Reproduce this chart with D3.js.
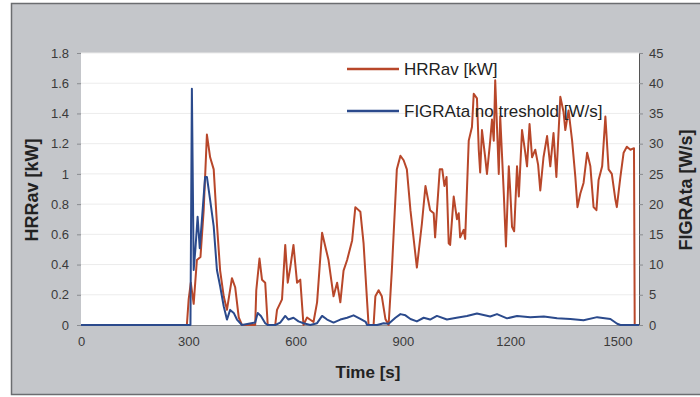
<!DOCTYPE html>
<html>
<head>
<meta charset="utf-8">
<script src="https://cdn.jsdelivr.net/npm/d3@7/dist/d3.min.js"></script>
<style>
  body { margin: 0; background: #fff; }
  svg { display: block; font-family: "Liberation Sans", Arial, sans-serif; }
</style>
</head>
<body>
<div id="chart"></div>
<script>
// tempo [s] e HRRav [kW]
const hrrTempo = [0, 296, 301, 307, 315, 324, 334, 343, 352, 361, 371, 380, 389, 399, 408, 422, 431, 441, 450,
  487, 490, 499, 506, 515, 522, 543, 548, 562, 571, 578, 585, 594, 604, 613, 622, 632, 650, 660, 674, 683,
  692, 706, 716, 725, 734, 744, 758, 767, 781, 790, 800, 804, 818, 823, 832, 841, 851, 860, 869, 883, 893,
  902, 911, 921, 939, 953, 963, 976, 986, 990, 1003, 1010, 1016, 1022, 1028, 1032, 1042, 1051, 1056, 1060,
  1070, 1074, 1084, 1093, 1098, 1107, 1112, 1116, 1121, 1130, 1135, 1144, 1149, 1154, 1158, 1163, 1168,
  1172, 1182, 1188, 1196, 1200, 1205, 1211, 1219, 1224, 1233, 1242, 1247, 1254, 1261, 1270, 1278, 1284,
  1293, 1303, 1312, 1321, 1329, 1340, 1349, 1354, 1363, 1373, 1382, 1388, 1396, 1405, 1415, 1424, 1433,
  1441, 1447, 1457, 1466, 1475, 1484, 1494, 1498, 1508, 1517, 1526, 1536, 1546, 1548, 1560];
const hrrValores = [0, 0, 0.17, 0.28, 0.14, 0.43, 0.45, 0.76, 1.26, 1.11, 1.03, 0.67, 0.36, 0.19, 0.10, 0.31,
  0.25, 0.05, 0, 0, 0.23, 0.44, 0.30, 0.28, 0, 0, 0.10, 0.17, 0.53, 0.28, 0.38, 0.53, 0.28, 0.30, 0, 0.05,
  0.02, 0.15, 0.61, 0.52, 0.43, 0.19, 0.28, 0.15, 0.36, 0.43, 0.56, 0.78, 0.75, 0.54, 0.15, 0, 0, 0.19,
  0.23, 0.19, 0.04, 0, 0.36, 1.03, 1.12, 1.09, 1.03, 0.76, 0.38, 0.67, 0.92, 0.76, 0.74, 0.58, 1.03, 1.03,
  0.92, 0.98, 0.54, 0.53, 0.85, 0.70, 0.74, 0.58, 0.63, 0.57, 1.22, 1.31, 1.53, 1.50, 1.16, 1.01, 1.29,
  1.11, 1.00, 1.22, 1.36, 1.22, 1.62, 1.31, 1.00, 1.38, 0.87, 0.52, 1.05, 0.89, 0.65, 0.62, 1.05, 0.85,
  1.29, 1.14, 1.05, 1.33, 1.11, 1.16, 1.06, 0.89, 1.11, 1.25, 1.05, 1.27, 0.98, 1.51, 1.41, 1.29, 1.42,
  1.22, 0.98, 0.78, 0.87, 0.94, 1.14, 1.05, 0.78, 0.76, 0.96, 1.05, 1.38, 1.03, 1.00, 0.83, 0.78, 0.98,
  1.14, 1.18, 1.16, 1.17, 0, 0];

// tempo [s] e FIGRAta [W/s]
const figraTempo = [0, 300, 306, 310, 315, 320, 326, 332, 338, 347, 352, 361, 371, 380, 389, 399, 408, 417,
  427, 436, 450, 487, 494, 503, 515, 522, 543, 557, 571, 580, 594, 608, 622, 641, 660, 674, 688, 706, 725,
  744, 762, 781, 796, 800, 828, 846, 860, 879, 893, 907, 921, 939, 958, 976, 995, 1023, 1050, 1079, 1107,
  1144, 1163, 1191, 1219, 1256, 1294, 1331, 1368, 1405, 1443, 1480, 1499, 1508, 1560];
const figraValores = [0, 0, 0, 39.1, 9.1, 12.7, 17.9, 12.7, 17.4, 24.5, 24.5, 20.7, 16.3, 9.1, 6.4, 3.1, 0.9,
  2.5, 2.0, 0.9, 0, 0.4, 2.0, 1.5, 0.3, 0, 0, 0.4, 1.5, 0.9, 1.2, 0.6, 0.3, 0, 0.3, 1.5, 0.9, 0.4, 0.9,
  1.2, 1.6, 1.0, 0.5, 0, 0, 0.3, 0.2, 1.2, 1.8, 1.6, 1.0, 0.6, 1.2, 0.9, 1.5, 0.9, 1.2, 1.5, 1.9, 1.4,
  1.8, 1.1, 1.5, 1.3, 1.4, 1.1, 1.0, 0.8, 1.3, 1.0, 0.2, 0, 0];

const ticksTempo = [0, 300, 600, 900, 1200, 1500];
const ticksHrr = [0, 0.2, 0.4, 0.6, 0.8, 1, 1.2, 1.4, 1.6, 1.8];
const ticksFigra = [0, 5, 10, 15, 20, 25, 30, 35, 40, 45];
const legendas = ["HRRav [kW]", "FIGRAta no treshold [W/s]"];

const largura = 700, altura = 397;
const margins = { top: 53, right: 61, bottom: 72, left: 81 };

const svg = d3.select("#chart").append("svg")
  .attr("width", largura)
  .attr("height", altura);

// fundo cinza
svg.append("rect")
  .attr("x", 11.5).attr("y", 3.5)
  .attr("width", 700).attr("height", 391)
  .attr("fill", "#c4c6ca")
  .attr("stroke", "#6b6d70")
  .attr("stroke-width", 1.5);

// area do grafico
svg.append("rect")
  .attr("x", margins.left).attr("y", margins.top)
  .attr("width", largura - margins.left - margins.right)
  .attr("height", altura - margins.top - margins.bottom)
  .attr("fill", "#fff");

//Escalas
const xScale = d3.scaleLinear()
  .domain([0, 1560])
  .range([margins.left, largura - margins.right]);

const yHrr = d3.scaleLinear()
  .domain([0, 1.8])
  .range([altura - margins.bottom, margins.top]);

const yFigra = d3.scaleLinear()
  .domain([0, 45])
  .range([altura - margins.bottom, margins.top]);

// grade
svg.append("g")
  .selectAll("line")
  .data(ticksHrr.slice(1))
  .join("line")
  .attr("x1", margins.left).attr("x2", largura - margins.right)
  .attr("y1", d => yHrr(d)).attr("y2", d => yHrr(d))
  .attr("stroke", "#ececec")
  .attr("stroke-width", 1);

//Eixos
const eixoX = svg.append("g")
  .attr("transform", `translate(0, ${altura - margins.bottom})`)
  .call(d3.axisBottom(xScale).tickValues(ticksTempo).tickSize(0).tickPadding(12)
    .tickFormat(d3.format("d")));

const eixoEsq = svg.append("g")
  .attr("transform", `translate(${margins.left}, 0)`)
  .call(d3.axisLeft(yHrr).tickValues(ticksHrr).tickSize(4).tickPadding(8)
    .tickFormat(d3.format("~g")));

const eixoDir = svg.append("g")
  .attr("transform", `translate(${largura - margins.right}, 0)`)
  .call(d3.axisRight(yFigra).tickValues(ticksFigra).tickSize(4).tickPadding(6));

[eixoX, eixoEsq, eixoDir].forEach(g => {
  g.selectAll("text")
    .attr("font-size", "13px")
    .attr("fill", "#3a3a3a")
    .attr("font-family", "Liberation Sans, Arial, sans-serif");
  g.selectAll(".tick line").attr("stroke", "#8a8c90");
});
eixoX.select(".domain").attr("stroke", "#8a8c90");
eixoEsq.select(".domain").attr("stroke", "none");
eixoDir.select(".domain").attr("stroke", "#555");

// titulos
svg.append("text")
  .attr("x", 368).attr("y", 378)
  .attr("text-anchor", "middle")
  .attr("font-size", "17px")
  .attr("font-weight", "bold")
  .attr("fill", "#222")
  .text("Time [s]");

svg.append("text")
  .attr("transform", "translate(38, 190) rotate(-90)")
  .attr("text-anchor", "middle")
  .attr("font-size", "18px")
  .attr("font-weight", "bold")
  .attr("fill", "#222")
  .text("HRRav [kW]");

svg.append("text")
  .attr("transform", "translate(692, 190) rotate(-90)")
  .attr("text-anchor", "middle")
  .attr("font-size", "18px")
  .attr("font-weight", "bold")
  .attr("fill", "#222")
  .text("FIGRAta [W/s]");

//Linhas
const cores = ["#b8472a", "#2b4a8c"];

const linhaHrr = d3.line()
  .x((d, i) => xScale(hrrTempo[i]))
  .y(d => yHrr(d));

const linhaFigra = d3.line()
  .x((d, i) => xScale(figraTempo[i]))
  .y(d => yFigra(d));

svg.append("path")
  .datum(hrrValores)
  .attr("fill", "none")
  .attr("stroke", cores[0])
  .attr("stroke-width", 2)
  .attr("stroke-linejoin", "round")
  .attr("d", linhaHrr);

svg.append("path")
  .datum(figraValores)
  .attr("fill", "none")
  .attr("stroke", cores[1])
  .attr("stroke-width", 2)
  .attr("stroke-linejoin", "round")
  .attr("d", linhaFigra);

// legenda
const legenda = svg.append("g")
  .selectAll("g")
  .data(legendas)
  .join("g")
  .attr("transform", (d, i) => `translate(347, ${69 + i * 42})`);

legenda.append("line")
  .attr("x1", 0).attr("x2", 52)
  .attr("stroke", (d, i) => cores[i])
  .attr("stroke-width", 2.5);

legenda.append("text")
  .attr("x", 57).attr("y", 6)
  .attr("font-size", "17px")
  .attr("fill", "#222")
  .text(d => d);
</script>
</body>
</html>
